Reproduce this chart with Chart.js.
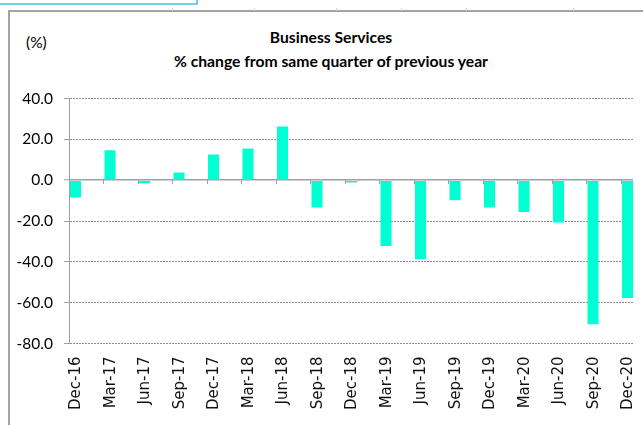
<!DOCTYPE html>
<html lang="en">
<head>
  <meta charset="UTF-8" />
  <title>Business Services</title>
  <script src="https://cdn.jsdelivr.net/npm/chart.js"></script>
  <style>
    html, body {
      margin: 0;
      padding: 0;
      width: 643px;
      height: 425px;
      overflow: hidden;
      background: #fff;
    }

    .sel {
      position: absolute;
      left: -4px;
      top: -10px;
      width: 198px;
      height: 11px;
      border: 2px solid #6fcff8;
    }

    .frame {
      position: absolute;
      left: 8px;
      top: 10px;
      width: 660px;
      height: 440px;
      border-top: 2px solid #a3a3a3;
      border-left: 2px solid #a3a3a3;
    }

    .notch {
      position: absolute;
      top: 8px;
      width: 1px;
      height: 3px;
      background: #d4d4d4;
    }

    .title {
      position: absolute;
      left: 0;
      top: 25px;
      width: 662px;
      text-align: center;
      font-family: 'Lato', sans-serif;
      font-weight: 700;
      font-size: 15.7px;
      line-height: 24px;
      color: #000;
    }

    .unit {
      position: absolute;
      left: 26px;
      top: 33px;
      font-family: 'Lato', sans-serif;
      font-size: 15.5px;
      line-height: 18px;
      color: #000;
    }

    .plot {
      position: absolute;
      left: 0;
      top: 0;
      width: 633px;
      height: 425px;
      overflow: hidden;
    }
  </style>
</head>
<body>

  <div class="sel"></div>
  <div class="frame"></div>
  <span class="notch" style="left:172px"></span>
  <span class="notch" style="left:254px"></span>
  <span class="notch" style="left:336px"></span>
  <span class="notch" style="left:401px"></span>
  <span class="notch" style="left:466px"></span>
  <span class="notch" style="left:573px"></span>

  <div class="title">Business Services<br>% change from same quarter of previous year</div>
  <div class="unit">(%)</div>

  <div class="plot">
    <canvas id="chart" width="680" height="425"></canvas>
  </div>

  <script>
    const quarters = ['Dec-16', 'Mar-17', 'Jun-17', 'Sep-17', 'Dec-17', 'Mar-18', 'Jun-18', 'Sep-18', 'Dec-18',
                      'Mar-19', 'Jun-19', 'Sep-19', 'Dec-19', 'Mar-20', 'Jun-20', 'Sep-20', 'Dec-20'];
    const changePct = [-8.5, 14.7, -1.5, 3.8, 12.6, 15.5, 26.3, -13.4, -1.2,
                       -32.2, -38.7, -9.8, -13.4, -15.6, -20.7, -70.6, -57.7];
    const yTicks = [40, 20, 0, -20, -40, -60, -80];

    const gridGray = '#8e8e8e';
    const axisGray = '#a0a0a0';

    // bars sit at the left edge of each quarter slot, just after the tick mark
    const leftAlignBars = {
      id: 'leftAlignBars',
      beforeDatasetsDraw(chart) {
        const x = chart.scales.x;
        const bar = chart.getDatasetMeta(0).data[0];
        const slot = x.getPixelForValue(1) - x.getPixelForValue(0);
        chart.ctx.save();
        chart.ctx.translate(-(slot - bar.width) / 2 + 1, 0);
      },
      afterDatasetsDraw(chart) {
        chart.ctx.restore();
      }
    };

    new Chart(document.getElementById('chart'), {
      type: 'bar',
      data: {
        labels: quarters,
        datasets: [{
          label: 'Business Services',
          data: changePct,
          backgroundColor: '#00ffd2',
          borderWidth: 0,
          categoryPercentage: 1,
          barPercentage: 0.32,
          xAxisID: 'x',
          yAxisID: 'y'
        }]
      },
      options: {
        responsive: false,
        animation: false,
        events: [],
        layout: { padding: { left: 0, top: 98.5, right: 24.5, bottom: 0 } },
        plugins: {
          legend: { display: false },
          title: { display: false },
          tooltip: { enabled: false }
        },
        scales: {
          x: {
            type: 'category',
            position: 'bottom',
            offset: true,
            afterFit(scale) { scale.height = 81.5; },
            grid: { display: false, drawTicks: false, offset: true },
            border: { display: false },
            ticks: {
              autoSkip: false,
              minRotation: 90,
              maxRotation: 90,
              padding: 13,
              labelOffset: -10,
              color: '#111',
              font: { family: 'DejaVu Sans', size: 15 }
            }
          },
          x2: {
            type: 'category',
            position: { y: 0 },
            offset: true,
            grid: {
              offset: true,
              drawOnChartArea: false,
              drawTicks: true,
              tickLength: 4,
              tickColor: axisGray,
              tickWidth: 1
            },
            border: { display: false },
            ticks: { display: false }
          },
          y: {
            min: Math.min(...yTicks),
            max: Math.max(...yTicks),
            afterFit(scale) { scale.width = 69; },
            afterBuildTicks(scale) { scale.ticks = yTicks.map(v => ({ value: v })); },
            ticks: {
              padding: 11,
              color: '#000',
              font: { family: 'Lato', size: 15.5 },
              callback: v => Number(v).toFixed(1)
            },
            grid: {
              color: ctx => ctx.tick && ctx.tick.value === 0 ? axisGray : gridGray,
              lineWidth: ctx => ctx.tick && ctx.tick.value === 0 ? 1.5 : 1,
              tickLength: 5,
              tickColor: axisGray,
              tickWidth: 1
            },
            border: {
              display: true,
              color: axisGray,
              width: 1,
              dash: ctx => ctx.tick && ctx.tick.value === 0 ? [] : [2, 1]
            }
          }
        }
      },
      plugins: [leftAlignBars]
    });
  </script>

</body>
</html>
